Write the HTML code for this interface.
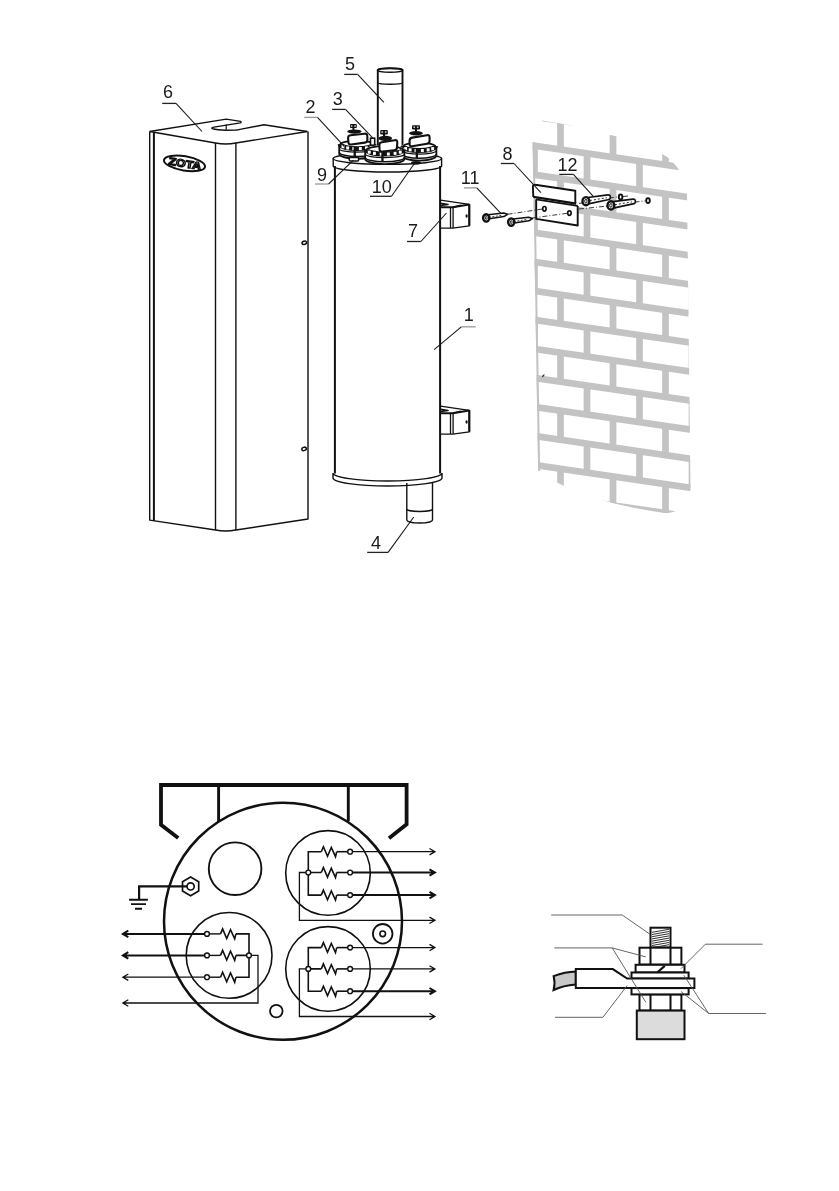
<!DOCTYPE html>
<html><head><meta charset="utf-8">
<style>
html,body{margin:0;padding:0;background:#fff;}
svg{display:block;}
text{font-family:"Liberation Sans",sans-serif;}
</style></head>
<body>
<svg width="839" height="1191" viewBox="0 0 839 1191">
<defs>
<filter id="noop" x="0" y="0" width="839" height="1191" filterUnits="userSpaceOnUse"><feOffset dx="0" dy="0"/></filter>
<clipPath id="wallclip">
<path d="M532.6,142 L542,120.5 L571,125.4 L616.8,136.5 L662,154 Q680,163 687,190 L690.5,490 Q686,513 665,513 Q600,504 560,484 Q545,477 538.2,471 Z"/>
</clipPath>
</defs>
<rect width="839" height="1191" fill="#fff"/>

<!-- BRICK WALL -->
<g id="wall" clip-path="url(#wallclip)" stroke="#c3c3c3" stroke-width="6.7" fill="none">
<line x1="520" y1="114.7" x2="700" y2="140.8"/>
<line x1="520" y1="143.7" x2="700" y2="169.9"/>
<line x1="520" y1="172.7" x2="700" y2="198.9"/>
<line x1="520" y1="201.7" x2="700" y2="227.9"/>
<line x1="520" y1="230.7" x2="700" y2="256.9"/>
<line x1="520" y1="259.8" x2="700" y2="285.9"/>
<line x1="520" y1="288.8" x2="700" y2="315.0"/>
<line x1="520" y1="317.8" x2="700" y2="344.0"/>
<line x1="520" y1="346.8" x2="700" y2="373.0"/>
<line x1="520" y1="375.8" x2="700" y2="402.0"/>
<line x1="520" y1="404.9" x2="700" y2="431.0"/>
<line x1="520" y1="433.9" x2="700" y2="460.1"/>
<line x1="520" y1="462.9" x2="700" y2="489.1"/>
<line x1="520" y1="491.9" x2="700" y2="518.1"/>
<line x1="508.0" y1="112.9" x2="508.0" y2="141.9"/>
<line x1="560.5" y1="120.5" x2="560.5" y2="149.6"/>
<line x1="613.0" y1="128.2" x2="613.0" y2="157.2"/>
<line x1="665.5" y1="135.8" x2="665.5" y2="164.8"/>
<line x1="534.5" y1="145.8" x2="534.5" y2="174.8"/>
<line x1="587.0" y1="153.4" x2="587.0" y2="182.4"/>
<line x1="639.5" y1="161.1" x2="639.5" y2="190.1"/>
<line x1="692.0" y1="168.7" x2="692.0" y2="197.7"/>
<line x1="508.0" y1="170.9" x2="508.0" y2="200.0"/>
<line x1="560.5" y1="178.6" x2="560.5" y2="207.6"/>
<line x1="613.0" y1="186.2" x2="613.0" y2="215.2"/>
<line x1="665.5" y1="193.9" x2="665.5" y2="222.9"/>
<line x1="534.5" y1="203.8" x2="534.5" y2="232.8"/>
<line x1="587.0" y1="211.5" x2="587.0" y2="240.5"/>
<line x1="639.5" y1="219.1" x2="639.5" y2="248.1"/>
<line x1="692.0" y1="226.7" x2="692.0" y2="255.8"/>
<line x1="508.0" y1="229.0" x2="508.0" y2="258.0"/>
<line x1="560.5" y1="236.6" x2="560.5" y2="265.6"/>
<line x1="613.0" y1="244.3" x2="613.0" y2="273.3"/>
<line x1="665.5" y1="251.9" x2="665.5" y2="280.9"/>
<line x1="534.5" y1="261.9" x2="534.5" y2="290.9"/>
<line x1="587.0" y1="269.5" x2="587.0" y2="298.5"/>
<line x1="639.5" y1="277.1" x2="639.5" y2="306.2"/>
<line x1="692.0" y1="284.8" x2="692.0" y2="313.8"/>
<line x1="508.0" y1="287.0" x2="508.0" y2="316.0"/>
<line x1="560.5" y1="294.7" x2="560.5" y2="323.7"/>
<line x1="613.0" y1="302.3" x2="613.0" y2="331.3"/>
<line x1="665.5" y1="309.9" x2="665.5" y2="339.0"/>
<line x1="534.5" y1="319.9" x2="534.5" y2="348.9"/>
<line x1="587.0" y1="327.5" x2="587.0" y2="356.6"/>
<line x1="639.5" y1="335.2" x2="639.5" y2="364.2"/>
<line x1="692.0" y1="342.8" x2="692.0" y2="371.8"/>
<line x1="508.0" y1="345.1" x2="508.0" y2="374.1"/>
<line x1="560.5" y1="352.7" x2="560.5" y2="381.7"/>
<line x1="613.0" y1="360.3" x2="613.0" y2="389.4"/>
<line x1="665.5" y1="368.0" x2="665.5" y2="397.0"/>
<line x1="534.5" y1="377.9" x2="534.5" y2="407.0"/>
<line x1="587.0" y1="385.6" x2="587.0" y2="414.6"/>
<line x1="639.5" y1="393.2" x2="639.5" y2="422.2"/>
<line x1="692.0" y1="400.9" x2="692.0" y2="429.9"/>
<line x1="508.0" y1="403.1" x2="508.0" y2="432.1"/>
<line x1="560.5" y1="410.7" x2="560.5" y2="439.8"/>
<line x1="613.0" y1="418.4" x2="613.0" y2="447.4"/>
<line x1="665.5" y1="426.0" x2="665.5" y2="455.0"/>
<line x1="534.5" y1="436.0" x2="534.5" y2="465.0"/>
<line x1="587.0" y1="443.6" x2="587.0" y2="472.6"/>
<line x1="639.5" y1="451.3" x2="639.5" y2="480.3"/>
<line x1="692.0" y1="458.9" x2="692.0" y2="487.9"/>
<line x1="508.0" y1="461.1" x2="508.0" y2="490.2"/>
<line x1="560.5" y1="468.8" x2="560.5" y2="497.8"/>
<line x1="613.0" y1="476.4" x2="613.0" y2="505.4"/>
<line x1="665.5" y1="484.1" x2="665.5" y2="513.1"/>

</g>
<path d="M533.6,142 L539.2,471" stroke="#c2c2c2" stroke-width="2" fill="none"/>

<!-- BOX 6 -->
<g id="box" stroke="#111" fill="none" stroke-width="1.4" stroke-linejoin="round">
<path d="M149.7,131.5 L226.2,119.1 L240.5,121.4 Q242,122.3 240.3,122.9 L214,127.1 Q210.6,127.9 212.6,128.8 Q217,130 226,130.2 L236,130 Q238,129.9 240,129.4 L263.9,124.8 L307.3,131.5"/>
<path d="M226.2,124.4 L226.2,129.8" stroke-width="1.2"/>
<path d="M149.7,131.5 L215.5,143 Q225.8,145 235.9,143 L307.3,131.5"/>
<path d="M149.7,131.5 L149.7,520.1 L215.5,530 Q225.8,532 235.9,530 L308,519 L308,131.5"/>
<line x1="153.9" y1="133" x2="153.9" y2="521" stroke-width="2"/>
<line x1="215.5" y1="143" x2="215.5" y2="530"/>
<line x1="235.9" y1="143" x2="235.9" y2="530"/>
</g>

<!-- HEATER -->
<g id="heater" stroke="#111" fill="none" stroke-width="1.4">
<line x1="334.9" y1="166" x2="334.9" y2="473.4" stroke-width="2"/>
<line x1="440.1" y1="166" x2="440.1" y2="473.4" stroke-width="2"/>
<ellipse cx="387.4" cy="158.6" rx="54.2" ry="5.8"/>
<path d="M333.2,158.6 L333.2,166 A54.2,6 0 0 0 441.6,166 L441.6,158.6"/>
<path d="M333,478 A54.5,8 0 0 0 442,478 L442,473 A54.5,8 0 0 1 333,473 Z"/>
<!-- pipe 5 -->
<path d="M377.8,150 L377.8,70 A12.5,2 0 0 1 402.5,70 L402.5,150" stroke-width="1.9"/>
<ellipse cx="390.1" cy="70.2" rx="12.7" ry="2"/>
<path d="M377.5,82.5 A12.7,2 0 0 0 402.8,82.5"/>
<!-- pipe 4 -->
<path d="M406.8,483 L406.8,520 A12.85,3 0 0 0 432.5,520 L432.5,483"/>
<path d="M406.8,509 A12.85,2.5 0 0 0 432.5,509"/>
</g>


<!-- ZOTA logo & holes -->
<g filter="url(#noop)"><g id="logo" transform="translate(184.5,163.4) rotate(9.5)">
<ellipse cx="0" cy="0" rx="20.8" ry="7.2" fill="#fff" stroke="#111" stroke-width="2"/>
<text x="0.5" y="3.9" font-size="10.5" font-weight="bold" text-anchor="middle" fill="#fff" stroke="#111" stroke-width="1.3" textLength="33" lengthAdjust="spacingAndGlyphs">ZOTA</text>
</g></g>
<ellipse cx="304.3" cy="242.8" rx="2.3" ry="1.6" transform="rotate(-20 304.3 242.8)" fill="#fff" stroke="#111" stroke-width="1.5"/>
<ellipse cx="304.1" cy="448.9" rx="2.3" ry="1.6" transform="rotate(-20 304.1 448.9)" fill="#fff" stroke="#111" stroke-width="1.5"/>

<!-- BRACKETS 7 -->
<g id="br7" stroke="#111" fill="#fff" stroke-width="1.3" stroke-linejoin="round">
<path d="M440.5,200.1 L469.3,204.3 L469.3,225.8 L452.6,228.1 L440.5,228.1 Z" stroke-width="1.2"/>
<path d="M440.5,207.3 L452.6,207.3 L469.3,204.5" fill="none" stroke-width="2"/>
<path d="M440.5,203.3 L448,204.6 L440.5,205.6 M453,207.2 L461,205.3" fill="none" stroke-width="1.5"/>
<path d="M453.1,207.3 L453.1,228.1 M450.5,207.6 L450.5,228.1" fill="none" stroke-width="1.3"/>
<path d="M469.3,204.3 L469.3,225.8" fill="none" stroke-width="2.2"/>
<ellipse cx="466.6" cy="216" rx="1.1" ry="1.7" fill="#111" stroke="none"/>
</g>
<use href="#br7" transform="translate(0,206)"/>


<!-- TERMINALS -->
<path d="M339.2,144.2 A17.9,4.5 0 0 1 375.0,144.2 L375.0,153.7 A17.9,5 0 0 1 339.2,153.7 Z" fill="#fff" stroke="none"/>
<path d="M340.2,144.7 A16.9,4 0 0 1 374.0,144.7" fill="none" stroke="#111" stroke-width="1.8"/>
<path d="M340.2,144.2 A16.9,4.5 0 0 0 374.0,144.2" fill="none" stroke="#111" stroke-width="5"/>
<rect x="341.5" y="145.2" width="2.9" height="3.1" fill="#fff"/>
<rect x="346.2" y="146.4" width="2.9" height="3.1" fill="#fff"/>
<rect x="352.3" y="147.1" width="2.9" height="3.1" fill="#fff"/>
<rect x="358.9" y="147.1" width="2.9" height="3.1" fill="#fff"/>
<rect x="365.0" y="146.4" width="2.9" height="3.1" fill="#fff"/>
<rect x="369.7" y="145.2" width="2.9" height="3.1" fill="#fff"/>
<path d="M339.2,148.7 A17.9,3.5 0 0 0 375.0,148.7" fill="none" stroke="#111" stroke-width="1.2"/>
<path d="M339.2,152.2 A17.9,4.2 0 0 0 375.0,152.2" fill="none" stroke="#111" stroke-width="1.5"/>
<path d="M339.2,153.7 A17.9,5 0 0 0 375.0,153.7" fill="none" stroke="#111" stroke-width="1.9"/>
<path d="M339.2,144.2 L339.2,153.7 M375.0,144.2 L375.0,153.7" stroke="#111" stroke-width="1.8"/>
<rect x="353.6" y="146.7" width="2.3" height="9.5" fill="#111"/>
<rect x="349.3" y="157.5" width="9.3" height="3.5" rx="1" fill="#fff" stroke="#111" stroke-width="1.5"/>
<path d="M348.10,138.09 Q347.9,135.5 350.48,135.22 L364.62,133.68 Q367.2,133.4 367.29,136.00 L367.41,139.70 Q367.5,142.3 364.92,142.64 L351.18,144.46 Q348.6,144.8 348.40,142.21 Z" fill="#fff" stroke="#111" stroke-width="2.1"/>
<ellipse cx="354.4" cy="131.6" rx="7.2" ry="2.1" fill="#111"/>
<rect x="352.4" y="127.5" width="2" height="2.4" fill="#111"/>
<rect x="350" y="124.1" width="6.8" height="3.9" rx="1" fill="#111"/>
<rect x="350.8" y="125.4" width="1.6" height="1.2" fill="#fff"/>
<rect x="354.3" y="125.4" width="1.6" height="1.2" fill="#fff"/>
<rect x="370.5" y="138.2" width="4.2" height="7" fill="#fff" stroke="#111" stroke-width="1.6"/>
<path d="M402.0,146.1 A17.2,4.5 0 0 1 436.4,146.1 L436.4,155.6 A17.2,5 0 0 1 402.0,155.6 Z" fill="#fff" stroke="none"/>
<path d="M403.0,146.6 A16.2,4 0 0 1 435.4,146.6" fill="none" stroke="#111" stroke-width="1.8"/>
<path d="M403.0,146.1 A16.2,4.5 0 0 0 435.4,146.1" fill="none" stroke="#111" stroke-width="5"/>
<rect x="404.2" y="147.1" width="2.9" height="3.1" fill="#fff"/>
<rect x="408.7" y="148.3" width="2.9" height="3.1" fill="#fff"/>
<rect x="414.5" y="149.0" width="2.9" height="3.1" fill="#fff"/>
<rect x="420.9" y="149.0" width="2.9" height="3.1" fill="#fff"/>
<rect x="426.7" y="148.3" width="2.9" height="3.1" fill="#fff"/>
<rect x="431.2" y="147.1" width="2.9" height="3.1" fill="#fff"/>
<path d="M402.0,150.6 A17.2,3.5 0 0 0 436.4,150.6" fill="none" stroke="#111" stroke-width="1.2"/>
<path d="M402.0,154.1 A17.2,4.2 0 0 0 436.4,154.1" fill="none" stroke="#111" stroke-width="1.5"/>
<path d="M402.0,155.6 A17.2,5 0 0 0 436.4,155.6" fill="none" stroke="#111" stroke-width="1.9"/>
<path d="M402.0,146.1 L402.0,155.6 M436.4,146.1 L436.4,155.6" stroke="#111" stroke-width="1.8"/>
<rect x="415.7" y="148.6" width="2.3" height="9.5" fill="#111"/>
<ellipse cx="416" cy="162.8" rx="5" ry="1.8" fill="#111"/>
<path d="M409.60,140.60 Q409.6,138 412.17,137.59 L427.03,135.21 Q429.6,134.8 429.60,137.40 L429.60,140.80 Q429.6,143.4 427.03,143.82 L412.17,146.28 Q409.6,146.7 409.60,144.10 Z" fill="#fff" stroke="#111" stroke-width="2.1"/>
<ellipse cx="416.0" cy="133.2" rx="6.9" ry="2.2" fill="#111"/>
<rect x="415.0" y="129.0" width="2" height="2.5" fill="#111"/>
<rect x="412" y="125.2" width="8.0" height="4.3" rx="1" fill="#111"/>
<rect x="413.4" y="126.5" width="1.6" height="1.2" fill="#fff"/>
<rect x="416.9" y="126.5" width="1.6" height="1.2" fill="#fff"/>
<path d="M365.2,149.6 A19.6,4.5 0 0 1 404.4,149.6 L404.4,159.1 A19.6,5 0 0 1 365.2,159.1 Z" fill="#fff" stroke="none"/>
<path d="M366.2,150.1 A18.6,4 0 0 1 403.4,150.1" fill="none" stroke="#111" stroke-width="1.8"/>
<path d="M366.2,149.6 A18.6,4.5 0 0 0 403.4,149.6" fill="none" stroke="#111" stroke-width="5"/>
<rect x="367.8" y="150.6" width="2.9" height="3.1" fill="#fff"/>
<rect x="373.0" y="151.8" width="2.9" height="3.1" fill="#fff"/>
<rect x="379.7" y="152.5" width="2.9" height="3.1" fill="#fff"/>
<rect x="386.9" y="152.5" width="2.9" height="3.1" fill="#fff"/>
<rect x="393.6" y="151.8" width="2.9" height="3.1" fill="#fff"/>
<rect x="398.8" y="150.6" width="2.9" height="3.1" fill="#fff"/>
<path d="M365.2,154.1 A19.6,3.5 0 0 0 404.4,154.1" fill="none" stroke="#111" stroke-width="1.2"/>
<path d="M365.2,157.6 A19.6,4.2 0 0 0 404.4,157.6" fill="none" stroke="#111" stroke-width="1.5"/>
<path d="M365.2,159.1 A19.6,5 0 0 0 404.4,159.1" fill="none" stroke="#111" stroke-width="1.9"/>
<path d="M365.2,149.6 L365.2,159.1 M404.4,149.6 L404.4,159.1" stroke="#111" stroke-width="1.8"/>
<rect x="381.3" y="152.1" width="2.3" height="9.5" fill="#111"/>
<path d="M379.34,145.30 Q379.2,142.7 381.77,142.29 L394.83,140.21 Q397.4,139.8 397.27,142.40 L397.03,147.40 Q396.9,150 394.31,150.27 L382.29,151.53 Q379.7,151.8 379.56,149.20 Z" fill="#fff" stroke="#111" stroke-width="2.1"/>
<ellipse cx="385.3" cy="138.4" rx="6.7" ry="2.7" fill="#111"/>
<rect x="383.0" y="133.9" width="2" height="2.3" fill="#111"/>
<rect x="380.2" y="130.1" width="7.6" height="4.3" rx="1" fill="#111"/>
<rect x="381.4" y="131.4" width="1.6" height="1.2" fill="#fff"/>
<rect x="384.9" y="131.4" width="1.6" height="1.2" fill="#fff"/>
<!-- BRACKET 8 -->
<g id="br8" stroke="#111" fill="#fff" stroke-linejoin="round">
<path d="M532.9,184.5 L575.3,190.7 L577.7,206 L577.7,225.5 L536.2,218.9 L536.2,199.8 L533.3,196.9 Z" stroke="none"/>
<path d="M533.3,197 L532.9,186.7 Q532.9,184.4 535.2,184.8 L575.3,190.7 L575.3,203" fill="none" stroke-width="1.9"/>
<path d="M533.3,196.9 L576.2,203.6" fill="none" stroke-width="2.3"/>
<path d="M535.9,199.4 L577.7,205.9" fill="none" stroke-width="1.8"/>
<path d="M536.2,199.5 L536.2,218.9 L577.7,225.5 L577.7,205.9" fill="none" stroke-width="1.9"/>
<ellipse cx="544.4" cy="208.8" rx="1.7" ry="2.3" stroke-width="1.7"/>
<ellipse cx="569.4" cy="213.1" rx="1.7" ry="2.3" stroke-width="1.7"/>
</g>
<!-- dash-dot lines -->
<g stroke="#222" stroke-width="0.9" fill="none" stroke-dasharray="5,2,1,2">
<line x1="507.6" y1="214.3" x2="542.5" y2="209"/>
<line x1="532.5" y1="218" x2="567" y2="213.3"/>
<line x1="579" y1="203.4" x2="583" y2="202.8"/>
<line x1="589" y1="200.5" x2="617.5" y2="197"/>
<line x1="623" y1="196.5" x2="628" y2="196"/>
<line x1="579" y1="209" x2="608" y2="206"/>
<line x1="634.5" y1="202.2" x2="645.5" y2="200.7"/>
</g>
<!-- SCREWS 11 -->
<defs>
<g id="screw">
<path d="M0,-2.5 L17.8,-4.6 L21.6,-3.3 L18,-1 L0,1.6 Z" fill="#fff" stroke="#111" stroke-width="1.5" stroke-linejoin="round"/>
<path d="M3,-0.3 L16,-2.3" stroke="#111" stroke-width="0.8" stroke-dasharray="2,1.5"/>
<ellipse cx="0.3" cy="0.3" rx="3.1" ry="3.7" fill="#fff" stroke="#111" stroke-width="2.4"/>
<ellipse cx="0.3" cy="0.3" rx="0.9" ry="1.6" fill="none" stroke="#111" stroke-width="0.9"/>
</g>
<g id="dowel">
<path d="M0,-4 L22,-6.8 Q24.5,-7 24.5,-4.5 Q24.5,-2.3 22,-2 L0,2.7 Z" fill="#fff" stroke="#111" stroke-width="1.6" stroke-linejoin="round"/>
<path d="M4,-1.2 L21,-4" stroke="#111" stroke-width="0.9" stroke-dasharray="2,2"/>
<ellipse cx="0" cy="-0.5" rx="3.4" ry="4.1" fill="#fff" stroke="#111" stroke-width="2.4"/>
<ellipse cx="0" cy="-0.5" rx="1.2" ry="1.9" fill="none" stroke="#111" stroke-width="1"/>
</g>
</defs>
<use href="#screw" x="485.9" y="217.6"/>
<use href="#screw" x="510.9" y="221.8"/>
<use href="#dowel" x="585.9" y="201.7"/>
<use href="#dowel" x="610.9" y="205.9"/>
<ellipse cx="620.6" cy="196.9" rx="1.8" ry="2.5" fill="#fff" stroke="#111" stroke-width="1.9"/>
<ellipse cx="648" cy="200.6" rx="1.8" ry="2.5" fill="#fff" stroke="#111" stroke-width="1.9"/>

<!-- LABELS -->
<g id="labels" font-size="18" fill="#1a1a1a" filter="url(#noop)">
<text x="163.1" y="98.3">6</text>
<text x="344.9" y="69.5">5</text>
<text x="332.8" y="104.5">3</text>
<text x="305.5" y="113.0">2</text>
<text x="317" y="180.5">9</text>
<text x="371.7" y="193.0">10</text>
<text x="408" y="237.1">7</text>
<text x="463.8" y="321.4">1</text>
<text x="371" y="549.1">4</text>
<text x="502.5" y="160.3">8</text>
<text x="460.8" y="183.6">11</text>
<text x="557.6" y="171.0">12</text>
</g>
<g id="leaders" fill="none" stroke-width="1.1">
<line x1="162.2" y1="103.4" x2="176" y2="103.4" stroke="#222" stroke-width="1.3"/>
<line x1="176" y1="103.4" x2="202" y2="131.5" stroke="#1a1a1a"/>
<line x1="344.2" y1="74.4" x2="357.6" y2="74.4" stroke="#222" stroke-width="1.3"/>
<line x1="357.6" y1="74.4" x2="383.9" y2="102.4" stroke="#1a1a1a"/>
<line x1="332.1" y1="109.4" x2="345.5" y2="109.4" stroke="#222" stroke-width="1.3"/>
<line x1="345.5" y1="109.4" x2="373.4" y2="138.7" stroke="#1a1a1a"/>
<line x1="304.2" y1="117.4" x2="317.5" y2="117.4" stroke="#999" stroke-width="1.3"/>
<line x1="317.5" y1="117.4" x2="344.2" y2="146.3" stroke="#1a1a1a"/>
<line x1="315" y1="184" x2="328.6" y2="184" stroke="#999" stroke-width="1.3"/>
<line x1="328.6" y1="184" x2="353.4" y2="160.2" stroke="#1a1a1a"/>
<line x1="370" y1="196.3" x2="391.5" y2="196.3" stroke="#222" stroke-width="1.3"/>
<line x1="391.5" y1="196.3" x2="414.4" y2="163.5" stroke="#1a1a1a"/>
<line x1="407" y1="241.5" x2="420.9" y2="241.5" stroke="#222" stroke-width="1.3"/>
<line x1="420.9" y1="241.5" x2="446.5" y2="213" stroke="#1a1a1a"/>
<line x1="475.7" y1="326.8" x2="461.3" y2="326.8" stroke="#999" stroke-width="1.3"/>
<line x1="461.3" y1="326.8" x2="434.1" y2="349.6" stroke="#1a1a1a"/>
<line x1="367.2" y1="552.4" x2="388.1" y2="552.4" stroke="#222" stroke-width="1.3"/>
<line x1="388.1" y1="552.4" x2="413.8" y2="517" stroke="#1a1a1a"/>
<line x1="500.8" y1="163.5" x2="514" y2="163.5" stroke="#222" stroke-width="1.3"/>
<line x1="514" y1="163.5" x2="540.9" y2="192.6" stroke="#1a1a1a"/>
<line x1="463.9" y1="187.9" x2="476.8" y2="187.9" stroke="#999" stroke-width="1.3"/>
<line x1="476.8" y1="187.9" x2="500.9" y2="213.4" stroke="#1a1a1a"/>
<line x1="559.3" y1="174.4" x2="573.4" y2="174.4" stroke="#222" stroke-width="1.3"/>
<line x1="573.4" y1="174.4" x2="593.5" y2="196.7" stroke="#1a1a1a"/>
</g>
<path d="M542.6,377.2 Q543,375 544.5,374.8" stroke="#111" stroke-width="1.1" fill="none"/>
<!-- BOTTOM -->
<g id="wiring">
<path d="M160.5,837.6 L177.6,837.6" stroke="none"/>
<path d="M178.2,838 L161,824.7 L161,785 L406.6,785 L406.6,824.3 L389,838.3" fill="none" stroke="#111" stroke-width="3.8" stroke-linejoin="miter"/>
<path d="M218.6,785 L218.6,822 M348.3,785 L348.3,821" fill="none" stroke="#111" stroke-width="2.9"/>
<ellipse cx="283" cy="921.3" rx="119" ry="118.5" fill="none" stroke="#111" stroke-width="2.5"/>
<circle cx="235.1" cy="868.7" r="26.3" fill="none" stroke="#111" stroke-width="1.9"/>
<path d="M190.6,895.7 L182.5,891.0 L182.5,881.8 L190.6,877.1 L198.7,881.8 L198.7,891.0 Z" fill="#fff" stroke="#111" stroke-width="1.7"/>
<circle cx="190.6" cy="886.4" r="3.6" fill="#fff" stroke="#111" stroke-width="1.7"/>
<path d="M186.9,886.4 L139.1,886.4 L139.1,899.8" fill="none" stroke="#111" stroke-width="2.2"/>
<path d="M129.1,899.8 L147.9,899.8 M131,904.1 L146,904.1 M135,908.8 L142,908.8" fill="none" stroke="#111" stroke-width="1.9"/>
<circle cx="328" cy="872.9" r="42.3" fill="none" stroke="#111" stroke-width="1.6"/>
<path d="M321.3,851.7 L308.3,851.7 L308.3,895.1 L321.3,895.1 M308.3,872.5 L321.3,872.5" fill="none" stroke="#111" stroke-width="1.6"/>
<path d="M321.3,851.7 L323.4,846.7 L327.5,856.3 L331.3,847.5 L335.5,856.7 L336.7,851.7" fill="none" stroke="#111" stroke-width="1.6" stroke-linejoin="miter"/>
<path d="M336.7,851.7 L348,851.7" stroke="#111" stroke-width="1.6"/>
<path d="M321.3,872.5 L323.4,867.5 L327.5,877.1 L331.3,868.3 L335.5,877.5 L336.7,872.5" fill="none" stroke="#111" stroke-width="1.6" stroke-linejoin="miter"/>
<path d="M336.7,872.5 L348,872.5" stroke="#111" stroke-width="1.6"/>
<path d="M321.3,895.1 L323.4,890.1 L327.5,899.7 L331.3,890.9 L335.5,900.1 L336.7,895.1" fill="none" stroke="#111" stroke-width="1.6" stroke-linejoin="miter"/>
<path d="M336.7,895.1 L348,895.1" stroke="#111" stroke-width="1.6"/>
<path d="M352.4,851.7 L434.9,851.7 M429.5,848.5 L434.9,851.7 L429.5,854.9000000000001" fill="none" stroke="#111" stroke-width="1.3"/>
<path d="M352.4,872.5 L434.9,872.5 M429.5,869.3 L434.9,872.5 L429.5,875.7" fill="none" stroke="#111" stroke-width="2"/>
<path d="M352.4,895.1 L434.9,895.1 M429.5,891.9 L434.9,895.1 L429.5,898.3000000000001" fill="none" stroke="#111" stroke-width="2"/>
<path d="M306,872.5 L299.4,872.5 L299.4,920.3 L434.9,920.3 M429.5,917.0999999999999 L434.9,920.3 L429.5,923.5" fill="none" stroke="#111" stroke-width="1.3"/>
<circle cx="350.1" cy="851.7" r="2.4" fill="#fff" stroke="#111" stroke-width="1.4"/>
<circle cx="350.1" cy="872.5" r="2.4" fill="#fff" stroke="#111" stroke-width="1.4"/>
<circle cx="350.1" cy="895.1" r="2.4" fill="#fff" stroke="#111" stroke-width="1.4"/>
<circle cx="308.3" cy="872.5" r="2.4" fill="#fff" stroke="#111" stroke-width="1.4"/>
<circle cx="328" cy="968.9" r="42.3" fill="none" stroke="#111" stroke-width="1.6"/>
<path d="M321.3,947.6 L308.3,947.6 L308.3,991.2 L321.3,991.2 M308.3,968.9 L321.3,968.9" fill="none" stroke="#111" stroke-width="1.6"/>
<path d="M321.3,947.6 L323.4,942.6 L327.5,952.2 L331.3,943.4 L335.5,952.6 L336.7,947.6" fill="none" stroke="#111" stroke-width="1.6" stroke-linejoin="miter"/>
<path d="M336.7,947.6 L348,947.6" stroke="#111" stroke-width="1.6"/>
<path d="M321.3,968.9 L323.4,963.9 L327.5,973.5 L331.3,964.7 L335.5,973.9 L336.7,968.9" fill="none" stroke="#111" stroke-width="1.6" stroke-linejoin="miter"/>
<path d="M336.7,968.9 L348,968.9" stroke="#111" stroke-width="1.6"/>
<path d="M321.3,991.2 L323.4,986.2 L327.5,995.8 L331.3,987.0 L335.5,996.2 L336.7,991.2" fill="none" stroke="#111" stroke-width="1.6" stroke-linejoin="miter"/>
<path d="M336.7,991.2 L348,991.2" stroke="#111" stroke-width="1.6"/>
<path d="M352.4,947.6 L434.9,947.6 M429.5,944.4 L434.9,947.6 L429.5,950.8000000000001" fill="none" stroke="#111" stroke-width="1.3"/>
<path d="M352.4,968.9 L434.9,968.9 M429.5,965.6999999999999 L434.9,968.9 L429.5,972.1" fill="none" stroke="#111" stroke-width="1.3"/>
<path d="M352.4,991.2 L434.9,991.2 M429.5,988.0 L434.9,991.2 L429.5,994.4000000000001" fill="none" stroke="#111" stroke-width="2"/>
<path d="M306,968.9 L299.4,968.9 L299.4,1016.5 L434.9,1016.5 M429.5,1013.3 L434.9,1016.5 L429.5,1019.7" fill="none" stroke="#111" stroke-width="1.3"/>
<circle cx="350.1" cy="947.6" r="2.4" fill="#fff" stroke="#111" stroke-width="1.4"/>
<circle cx="350.1" cy="968.9" r="2.4" fill="#fff" stroke="#111" stroke-width="1.4"/>
<circle cx="350.1" cy="991.2" r="2.4" fill="#fff" stroke="#111" stroke-width="1.4"/>
<circle cx="308.3" cy="968.9" r="2.4" fill="#fff" stroke="#111" stroke-width="1.4"/>
<circle cx="229.1" cy="955.4" r="42.9" fill="none" stroke="#111" stroke-width="1.6"/>
<path d="M204.6,933.9 L122.9,933.9 M128.3,930.6999999999999 L122.9,933.9 L128.3,937.1" fill="none" stroke="#111" stroke-width="2"/>
<path d="M209.4,933.9 L220.5,933.9" stroke="#111" stroke-width="1.4"/>
<path d="M220.5,933.9 L222.6,928.9 L226.7,938.5 L230.5,929.7 L234.7,938.9 L235.9,933.9" fill="none" stroke="#111" stroke-width="1.6" stroke-linejoin="miter"/>
<path d="M204.6,955.4 L122.9,955.4 M128.3,952.1999999999999 L122.9,955.4 L128.3,958.6" fill="none" stroke="#111" stroke-width="2"/>
<path d="M209.4,955.4 L220.5,955.4" stroke="#111" stroke-width="1.4"/>
<path d="M220.5,955.4 L222.6,950.4 L226.7,960.0 L230.5,951.2 L234.7,960.4 L235.9,955.4" fill="none" stroke="#111" stroke-width="1.6" stroke-linejoin="miter"/>
<path d="M204.6,977.2 L122.9,977.2 M128.3,974.0 L122.9,977.2 L128.3,980.4000000000001" fill="none" stroke="#111" stroke-width="1.3"/>
<path d="M209.4,977.2 L220.5,977.2" stroke="#111" stroke-width="1.4"/>
<path d="M220.5,977.2 L222.6,972.2 L226.7,981.8 L230.5,973.0 L234.7,982.2 L235.9,977.2" fill="none" stroke="#111" stroke-width="1.6" stroke-linejoin="miter"/>
<path d="M235.9,933.9 L249,933.9 L249,977.2 L235.9,977.2 M235.9,955.4 L246.6,955.4" fill="none" stroke="#111" stroke-width="1.6"/>
<path d="M251.4,955.4 L258,955.4 L258,1003 L122.9,1003 M128.3,999.8 L122.9,1003 L128.3,1006.2" fill="none" stroke="#111" stroke-width="1.3"/>
<circle cx="207" cy="933.9" r="2.4" fill="#fff" stroke="#111" stroke-width="1.4"/>
<circle cx="207" cy="955.4" r="2.4" fill="#fff" stroke="#111" stroke-width="1.4"/>
<circle cx="207" cy="977.2" r="2.4" fill="#fff" stroke="#111" stroke-width="1.4"/>
<circle cx="249" cy="955.4" r="2.4" fill="#fff" stroke="#111" stroke-width="1.4"/>
<circle cx="276.3" cy="1011.1" r="6.3" fill="none" stroke="#111" stroke-width="1.8"/>
<circle cx="382.7" cy="933.8" r="9.8" fill="none" stroke="#111" stroke-width="1.8"/>
<circle cx="382.7" cy="933.8" r="2.8" fill="none" stroke="#111" stroke-width="1.6"/>
</g>
<g id="bolt">
<path d="M553.6,976.1 Q565,972 575.8,971.6 L575.8,984.5 Q563,985.5 553.6,990 Q555.5,983 553.6,976.1 Z" fill="#c8c8c8" stroke="#111" stroke-width="2"/>
<rect x="650.5" y="927.7" width="20" height="19.8" fill="#fff" stroke="#111" stroke-width="2"/>
<path d="M652,932.3 L669,929.3 M652,934.5 L669,931.5 M652,936.7 L669,933.7 M652,938.9 L669,935.9 M652,941.1 L669,938.1 M652,943.3 L669,940.3 M652,945.5 L669,942.5 M652,947.7 L669,944.7 " stroke="#333" stroke-width="1" fill="none"/>
<rect x="639.5" y="947.7" width="41.9" height="16.9" fill="#fff" stroke="#111" stroke-width="2"/>
<path d="M650.5,947.7 L650.5,964.6 M670.5,947.7 L670.5,964.6" stroke="#111" stroke-width="2"/>
<rect x="639.5" y="994.4" width="41.9" height="16.2" fill="#fff" stroke="#111" stroke-width="2"/>
<path d="M650.5,994.4 L650.5,1010.6 M670.5,994.4 L670.5,1010.6" stroke="#111" stroke-width="2"/>
<rect x="635.6" y="964.8" width="48.9" height="7.7" fill="#fff" stroke="#111" stroke-width="2"/>
<path d="M657.2,972.5 L664.8,965.8" stroke="#111" stroke-width="2.2"/>
<rect x="631.5" y="972.5" width="57.1" height="6.1" fill="#fff" stroke="#111" stroke-width="2"/>
<rect x="631.5" y="988.1" width="57.1" height="6.3" fill="#fff" stroke="#111" stroke-width="2"/>
<path d="M575.8,969.1 L612.8,969.1 L627.1,978.6 L694.4,978.6 L694.4,988.1 L575.8,988.1 Z" fill="#fff" stroke="#111" stroke-width="2" stroke-linejoin="miter"/>
<rect x="636.8" y="1010.6" width="47.7" height="28.6" fill="#dcdcdc" stroke="#111" stroke-width="2"/>
<path d="M551.2,915 L622.2,915 L650.1,934.3" fill="none" stroke="#555" stroke-width="0.9"/>
<path d="M554.3,947.9 L612.2,947.9 L645.8,956.9 M612.2,947.9 L645.8,1002.3" fill="none" stroke="#555" stroke-width="0.9"/>
<path d="M555,1017.3 L602.9,1017.3 L627.2,985.5" fill="none" stroke="#555" stroke-width="0.9"/>
<path d="M681,968.6 L705.4,944.2 L762.6,944.2" fill="none" stroke="#555" stroke-width="0.9"/>
<path d="M683.9,975.3 L708.7,1013.5 L765.9,1013.5 M681,991.5 L708.7,1013.5" fill="none" stroke="#555" stroke-width="0.9"/>
</g>
<!-- /BOTTOM -->
</svg>
</body></html>
